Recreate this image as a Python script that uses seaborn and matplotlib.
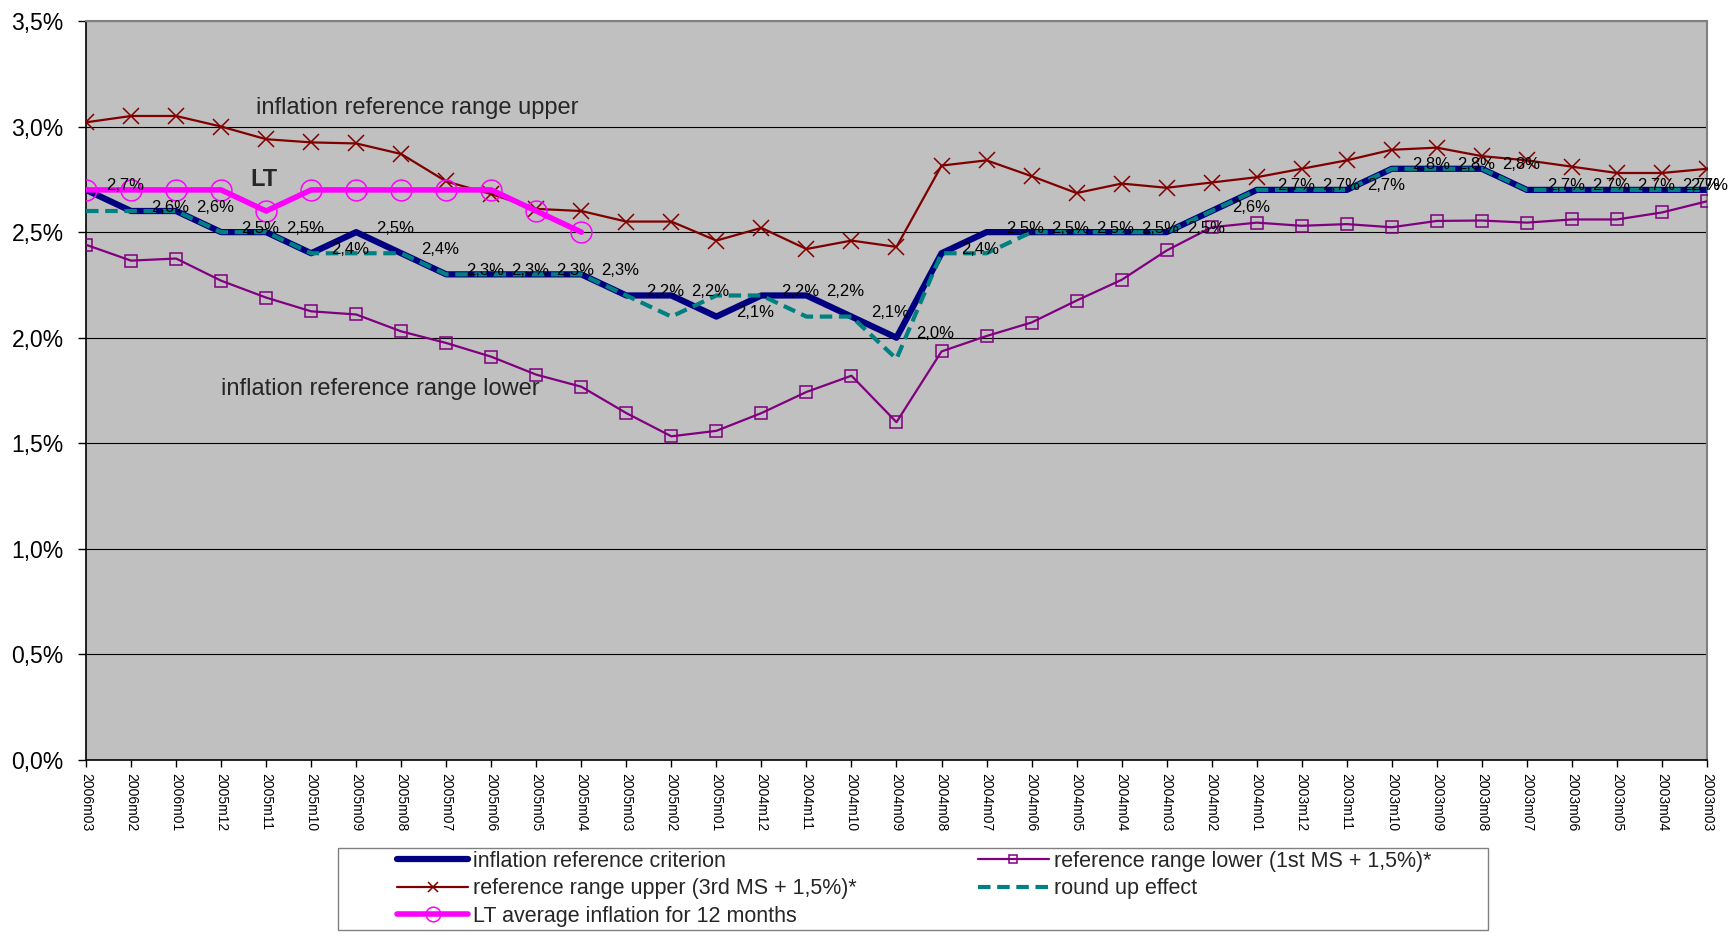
import matplotlib
matplotlib.use("Agg")
import matplotlib.pyplot as plt
import matplotlib.ticker as mticker
from matplotlib.patches import Rectangle
import seaborn as sns
import pandas as pd

months = ['2006m03', '2006m02', '2006m01', '2005m12', '2005m11', '2005m10', '2005m09',
          '2005m08', '2005m07', '2005m06', '2005m05', '2005m04', '2005m03', '2005m02',
          '2005m01', '2004m12', '2004m11', '2004m10', '2004m09', '2004m08', '2004m07',
          '2004m06', '2004m05', '2004m04', '2004m03', '2004m02', '2004m01', '2003m12',
          '2003m11', '2003m10', '2003m09', '2003m08', '2003m07', '2003m06', '2003m05',
          '2003m04', '2003m03']

criterion = [2.7, 2.6, 2.6, 2.5, 2.5, 2.4, 2.5, 2.4, 2.3, 2.3, 2.3, 2.3, 2.2, 2.2, 2.1,
             2.2, 2.2, 2.1, 2.0, 2.4, 2.5, 2.5, 2.5, 2.5, 2.5, 2.6, 2.7, 2.7, 2.7, 2.8,
             2.8, 2.8, 2.7, 2.7, 2.7, 2.7, 2.7]
round_up = [2.6, 2.6, 2.6, 2.5, 2.5, 2.4, 2.4, 2.4, 2.3, 2.3, 2.3, 2.3, 2.2, 2.1, 2.2,
            2.2, 2.1, 2.1, 1.9, 2.4, 2.4, 2.5, 2.5, 2.5, 2.5, 2.6, 2.7, 2.7, 2.7, 2.8,
            2.8, 2.8, 2.7, 2.7, 2.7, 2.7, 2.7]
upper = [3.02, 3.05, 3.05, 3.00, 2.94, 2.925, 2.92, 2.87, 2.74, 2.68, 2.61, 2.60, 2.55,
         2.55, 2.46, 2.52, 2.42, 2.46, 2.43, 2.815, 2.84, 2.765, 2.685, 2.73, 2.71, 2.735,
         2.76, 2.80, 2.84, 2.89, 2.90, 2.86, 2.84, 2.81, 2.78, 2.78, 2.80]
lower = [2.44, 2.365, 2.375, 2.27, 2.19, 2.125, 2.11, 2.03, 1.975, 1.91, 1.825, 1.768,
         1.643, 1.533, 1.559, 1.643, 1.743, 1.82, 1.60, 1.935, 2.008, 2.072, 2.176, 2.274,
         2.413, 2.523, 2.545, 2.53, 2.538, 2.523, 2.553, 2.555, 2.545, 2.56, 2.56, 2.593,
         2.646]
lt_avg = [2.7, 2.7, 2.7, 2.7, 2.6, 2.7, 2.7, 2.7, 2.7, 2.7, 2.6, 2.5]

pos = list(range(len(months)))
df = pd.DataFrame({'pos': pos, 'criterion': criterion, 'round_up': round_up,
                   'upper': upper, 'lower': lower})
df_lt = pd.DataFrame({'pos': pos[:len(lt_avg)], 'lt': lt_avg})

sns.set_theme(style="ticks")
plt.rcParams['font.family'] = ['Liberation Sans', 'DejaVu Sans']

fig = plt.figure(figsize=(17.31, 9.36), dpi=100)
ax = fig.add_axes([0.0497, 0.188, 0.9364, 0.7896])
ax.set_facecolor('#C0C0C0')

sns.lineplot(data=df, x='pos', y='criterion', ax=ax, color='#000080', lw=4.5,
             label='inflation reference criterion', zorder=3)
sns.lineplot(data=df, x='pos', y='lower', ax=ax, color='#800080', lw=1.6, marker='s',
             markersize=8, markerfacecolor='none', markeredgecolor='#800080',
             markeredgewidth=1.1, label='reference range lower (1st MS + 1,5%)*', zorder=4)
sns.lineplot(data=df, x='pos', y='upper', ax=ax, color='#800000', lw=1.6, marker='x',
             markersize=11, markeredgewidth=1.1, markeredgecolor='#800000',
             label='reference range upper (3rd MS + 1,5%)*', zorder=4)
sns.lineplot(data=df, x='pos', y='round_up', ax=ax, color='#008080', lw=3,
             linestyle=(0, (3, 1.6)), label='round up effect', zorder=5)
sns.lineplot(data=df_lt, x='pos', y='lt', ax=ax, color='#FF00FF', lw=4, marker='o',
             markersize=15, markerfacecolor='none', markeredgecolor='#FF00FF',
             markeredgewidth=1.1, label='LT average inflation for 12 months', zorder=6)

for x, v in zip(pos, criterion):
    off = (20, 4) if x < len(pos) - 1 else (-17, 4)
    ax.annotate(f"{v:.1f}%".replace('.', ','), (x, v), xytext=off,
                textcoords='offset pixels', ha='left', va='center', fontsize=12,
                color='black', zorder=7, annotation_clip=False)

ax.text(3.78, 3.09, 'inflation reference range upper', fontsize=17, va='center', ha='left')
ax.text(2.99, 1.757, 'inflation reference range lower', fontsize=17, va='center', ha='left')
ax.text(3.64, 2.75, 'LT', fontsize=17, fontweight='bold', va='center', ha='left')

ax.set_xlim(0, len(months) - 1)
ax.set_ylim(0, 3.5)
ax.set_yticks([0, 0.5, 1.0, 1.5, 2.0, 2.5, 3.0, 3.5])
ax.yaxis.set_major_formatter(mticker.FuncFormatter(lambda v, p: f"{v:.1f}%".replace('.', ',')))
ax.set_xticks(pos)
ax.set_xticklabels(months, rotation=-90, fontsize=10, ha='center', va='top')
ax.tick_params(axis='y', labelsize=16.5, length=6, width=1, pad=10, colors='black')
ax.tick_params(axis='x', length=5, width=1, pad=4, colors='black')
ax.grid(axis='y', color='black', lw=0.8)
ax.set_axisbelow(True)
ax.set_xlabel('')
ax.set_ylabel('')

for s in ['left', 'bottom']:
    ax.spines[s].set_color('black')
    ax.spines[s].set_linewidth(1.2)
for s in ['top', 'right']:
    ax.spines[s].set_color('#808080')
    ax.spines[s].set_linewidth(1.5)

# legend frame drawn separately, legend itself without frame
fig.patches.append(Rectangle((338 / 1731, 6 / 936), 1150 / 1731, 82 / 936,
                             transform=fig.transFigure, facecolor='white',
                             edgecolor='#808080', lw=1, zorder=-1))

handles, labels = ax.get_legend_handles_labels()
ax.get_legend().remove()
order = [0, 2, 4, 1, 3]
fig.legend([handles[i] for i in order], [labels[i] for i in order], ncol=2,
           loc='upper left', bbox_to_anchor=(397 / 1731, 85 / 936),
           bbox_transform=fig.transFigure, fontsize=15.5, frameon=False,
           handlelength=3.3, handletextpad=0.25, borderpad=0, labelspacing=0.3,
           columnspacing=5.6, borderaxespad=0, markerscale=0.7)

fig.savefig('out.png', dpi=100)
